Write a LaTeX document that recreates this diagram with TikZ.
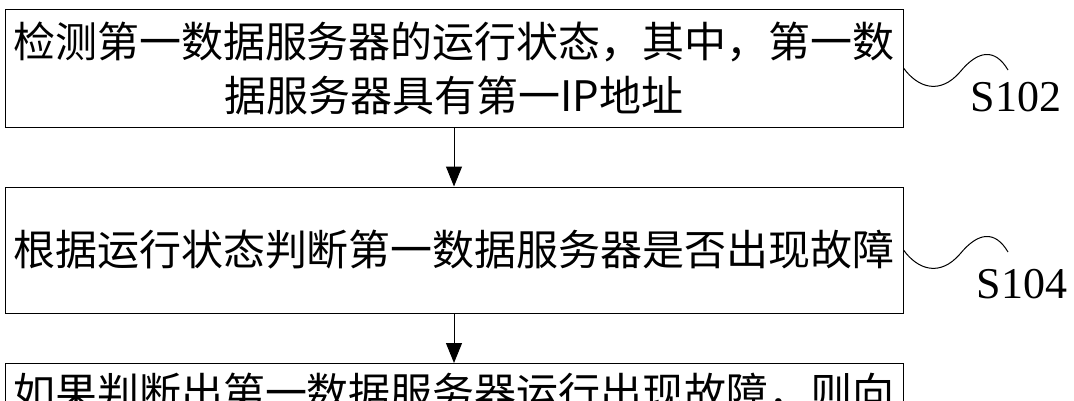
\documentclass[tikz,border=0pt]{standalone}
\usepackage{fontspec}
\newfontfamily\cjk{Noto Sans CJK SC}
\setmainfont{Liberation Serif}
\usetikzlibrary{arrows.meta}
\begin{document}
\begin{tikzpicture}[x=1pt,y=1pt,
  box/.style={draw,line width=1pt,minimum width=898pt,inner sep=0pt,align=center,font=\cjk\fontsize{42}{54}\selectfont},
  arr/.style={-{Triangle[length=20pt,width=16pt]},line width=1pt},
  wave/.style={line width=1pt},
  lab/.style={font=\fontsize{44}{44}\selectfont,inner sep=0pt}]
\useasboundingbox (0,0) rectangle (1074,400);
\clip (0,0) rectangle (1074,400);
\node[box,minimum height=117pt] (b1) at (454,331.5) {检测第一数据服务器的运行状态，其中，第一数\\据服务器具有第一IP地址};
\node[box,minimum height=126pt] (b2) at (454,150) {根据运行状态判断第一数据服务器是否出现故障};
\node[box,minimum height=117pt,anchor=north] (b3) at (454,37) {};
\node[font=\cjk\fontsize{42}{54}\selectfont,anchor=north,inner sep=0pt] (t3) at (454,27) {如果判断出第一数据服务器运行出现故障，则向};
\draw[arr] (b1.south) -- (b2.north);
\draw[arr] (b2.south) -- (b3.north);
\coordinate (w1) at (b1.east|-0,332);
\coordinate (w1e) at (1008,330);
\draw[wave] (w1) .. controls (918,312) and (940,305) .. (960,328) .. controls (978,350) and (995,352) .. (w1e);
\node[lab] (s1) at (1016,303) {S102};
\coordinate (w2) at (b2.east|-0,150);
\coordinate (w2e) at (1008,148);
\draw[wave] (w2) .. controls (918,130) and (940,123) .. (960,146) .. controls (978,168) and (995,170) .. (w2e);
\node[lab] (s2) at (1022,116) {S104};
\end{tikzpicture}
\end{document}
